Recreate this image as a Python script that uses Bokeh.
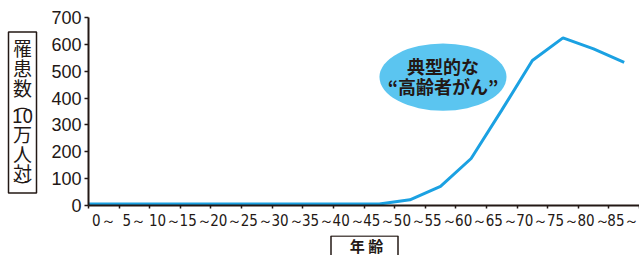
from bokeh.plotting import figure
from bokeh.models import Range1d, FixedTicker
from bokeh.layouts import row, column
from bokeh.embed import file_html
from bokeh.resources import INLINE
from bokeh.core.properties import value

age_groups = ["0～", "5～", "10～", "15～", "20～", "25～", "30～", "35～", "40～",
              "45～", "50～", "55～", "60～", "65～", "70～", "75～", "80～", "85～"]
incidence = [6, 6, 6, 6, 6, 6, 6, 6, 6, 6, 21, 71, 175, 355, 540, 624, 583, 533]
y_ticks = [0, 100, 200, 300, 400, 500, 600, 700]
y_title_chars = ["罹", "患", "数", "︵", "10", "万", "人", "対", "︶"]
x_title = "年 齢"
note_lines = ["典型的な", "“高齢者がん”"]

INK = "#231815"
LINE = "#1ba1e2"
BUBBLE = "#5bc5f0"
CJK = "Noto Sans CJK JP"


def blank(w, h, xr, yr):
    f = figure(frame_width=w, frame_height=h, output_backend="svg",
               toolbar_location=None, x_range=xr, y_range=yr,
               x_axis_type=None, y_axis_type=None,
               min_border_left=0, min_border_right=0, min_border_top=0,
               min_border_bottom=0)
    f.outline_line_color = None
    f.grid.grid_line_color = None
    f.background_fill_color = "white"
    f.border_fill_color = "white"
    return f


n = len(age_groups)
centers = [i + 0.5 for i in range(n)]

# ---- main chart ----
p = figure(frame_width=551, frame_height=188, output_backend="svg",
           toolbar_location=None, x_range=Range1d(0, n), y_range=Range1d(0, 700),
           min_border_left=44, min_border_right=0, min_border_top=17,
           min_border_bottom=30)
p.outline_line_color = None
p.grid.grid_line_color = None
p.background_fill_color = "white"
p.border_fill_color = "white"

xa = p.xaxis[0]
xa.ticker = FixedTicker(ticks=centers, minor_ticks=list(range(n + 1)))
xa.major_label_overrides = {c: lab for c, lab in zip(centers, age_groups)}
xa.major_tick_out = 0
xa.major_tick_in = 0
xa.minor_tick_out = 3
xa.minor_tick_in = 0
xa.minor_tick_line_color = INK
xa.minor_tick_line_width = 1.5
xa.axis_line_color = INK
xa.axis_line_width = 2
xa.major_label_text_font = "'Liberation Sans Narrow', 'DejaVu Sans Condensed', sans-serif"
xa.major_label_text_font_size = "15px"
xa.major_label_text_color = INK
xa.major_label_standoff = 3

ya = p.yaxis[0]
ya.ticker = FixedTicker(ticks=y_ticks)
ya.major_tick_out = 4
ya.major_tick_in = 0
ya.minor_tick_out = 0
ya.minor_tick_in = 0
ya.major_tick_line_color = INK
ya.major_tick_line_width = 1.5
ya.axis_line_color = INK
ya.axis_line_width = 2
ya.major_label_text_font = "'Liberation Sans', sans-serif"
ya.major_label_text_font_size = "18px"
ya.major_label_text_color = INK
ya.major_label_standoff = 3

xs = [p.x_range.start] + centers
ys = [incidence[0]] + incidence
p.line(xs, ys, line_color=LINE, line_width=3)

bx, by = 11.58, 478
p.ellipse(x=[bx], y=[by], width=4.15, height=250, fill_color=BUBBLE, line_color=None)
p.text(x=[bx, bx], y=[521, 445], text=note_lines, text_align="center",
       text_baseline="middle", text_font=value(CJK),
       text_font_style="bold", text_font_size="18px", text_color=INK)

# ---- left strip: boxed vertical y title ----
left = blank(44, 255, Range1d(0, 44), Range1d(255, 0))
left.rect(x=[22], y=[112], width=28, height=161, fill_color="white",
          line_color=INK, line_width=1.5)
char_y = [47, 67, 87, 102, 115, 133, 153, 172, 186]
left.text(x=[22] * len(y_title_chars), y=char_y, text=y_title_chars,
          text_align="center", text_baseline="middle", text_font=value(CJK),
          text_font_size="19px", text_color=INK)

# ---- bottom strip: boxed x title (frame aligned with main frame) ----
bottom = blank(551, 20, Range1d(0, 551), Range1d(20, 0))
bottom.rect(x=[276], y=[16.5], width=67, height=32, fill_color="white",
            line_color=INK, line_width=1.5)
bottom.text(x=[278], y=[9.5], text=[x_title], text_align="center",
            text_baseline="middle", text_font=value(CJK), text_font_style="bold",
            text_font_size="15px", text_color=INK)

layout = row(left, column(p, bottom, spacing=0), spacing=0)
open("out.html", "w").write(file_html(layout, INLINE))
